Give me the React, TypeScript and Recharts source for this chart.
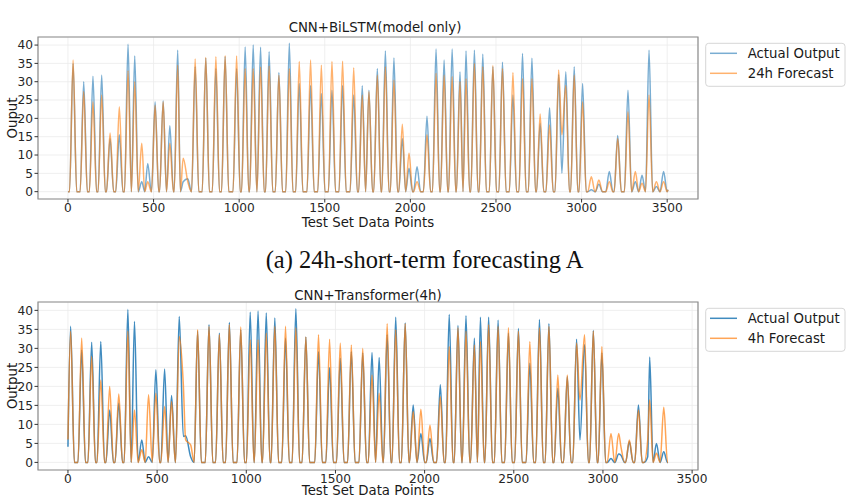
import { CartesianGrid, Line, LineChart, ReferenceArea, XAxis, YAxis } from "recharts";

// chart (a): CNN+BiLSTM, 24h forecast – one entry per visible daily bump
const peakIndexA = [30, 92, 146, 197, 246, 300, 351, 390, 431, 466, 509, 556, 595, 641, 673, 700, 743, 805, 864, 918, 985, 1035, 1082, 1125, 1175, 1232, 1293, 1351, 1417, 1480, 1542, 1604, 1669, 1719, 1758, 1807, 1854, 1904, 1953, 1992, 2039, 2097, 2150, 2197, 2244, 2290, 2325, 2374, 2423, 2482, 2538, 2599, 2655, 2710, 2758, 2813, 2866, 2885, 2908, 2957, 3006, 3057, 3101, 3162, 3211, 3271, 3314, 3353, 3394, 3437, 3479];
const actualA = [35, 30, 31.5, 31.8, 14.5, 15.5, 40.2, 37, 2.7, 7.7, 24.5, 24.8, 18, 38.6, 2.7, 3.5, 34.1, 36.4, 33.6, 36.8, 33.6, 39.5, 40, 39.4, 38.2, 32.5, 40.5, 29.5, 29, 26.8, 27.7, 29, 26.4, 28.9, 27.7, 33.6, 38.4, 36.5, 14.5, 6.4, 6.8, 20.6, 38.9, 35.9, 38.9, 32.7, 38.4, 38.6, 37.5, 34.1, 35.3, 26.4, 37.7, 36.4, 18.6, 22.9, 32, 5, 32.7, 34.1, 29.5, 0.5, 2, 5.5, 15.3, 27.7, 2.7, 4.5, 38.6, 1.4, 5.5];
const forecastA = [35.9, 27.3, 24.5, 26.4, 16, 23.2, 33, 30, 13.2, 2.7, 23.6, 24.5, 13.2, 34.5, 9.1, 2.7, 36.2, 36.6, 36.8, 37.1, 37, 33.6, 33.6, 34, 34.3, 31.8, 33.6, 35.5, 35.9, 34.5, 35.5, 35.6, 33.8, 26.4, 27.3, 31.8, 34.1, 30.5, 18.4, 10.5, 2.7, 15.5, 32.3, 31.8, 31.4, 30, 30.9, 35, 34.1, 34.4, 33.6, 32.5, 30.9, 30.9, 21.2, 18.2, 33.2, 15.5, 29, 31.8, 24.5, 4.1, 3.2, 2.7, 14.5, 21.8, 5.5, 2.3, 26.4, 2.7, 2.7];

// chart (b): CNN+Transformer, 4h forecast
const peakIndexB = [15, 77, 133, 184, 234, 285, 336, 373, 414, 452, 493, 542, 581, 624, 647, 660, 688, 727, 791, 849, 905, 969, 1022, 1066, 1112, 1160, 1220, 1278, 1334, 1405, 1467, 1527, 1589, 1653, 1705, 1745, 1790, 1838, 1891, 1936, 1979, 2030, 2088, 2138, 2187, 2232, 2279, 2313, 2359, 2412, 2470, 2526, 2590, 2644, 2697, 2747, 2800, 2852, 2871, 2897, 2946, 2994, 3045, 3088, 3101, 3148, 3199, 3251, 3262, 3300, 3341];
const actualB = [35.8, 29.6, 31.6, 31.8, 13.8, 15.6, 40.2, 37.1, 5.9, 1.5, 24.4, 24.6, 17.6, 38.4, 6.8, 7, 1.5, 34.5, 36.2, 34, 36.8, 34.9, 39.5, 39.8, 39.3, 38, 32.7, 40.4, 33, 29.2, 25, 27.4, 29.2, 28.8, 28.9, 27.6, 33.6, 38.2, 36.7, 15.1, 7.6, 6.3, 20.4, 38.9, 36, 38.6, 32.7, 38.2, 38.2, 37.4, 34, 35.2, 26.1, 37.6, 36.5, 19.5, 22.6, 32.4, 5.9, 31, 34.7, 28.8, 1, 2.2, 1.9, 5.5, 15.1, 1.5, 27.7, 5, 2.8];
const forecastB = [34.5, 32.7, 27.9, 21.7, 20, 18, 34.5, 13.8, 3.3, 17.8, 18.2, 14.7, 16, 33.1, 20.4, 5.9, 4.6, 34.9, 35.8, 33.6, 36.2, 35.6, 32.3, 32.3, 34, 35.8, 35.8, 35.4, 33, 33.6, 32.4, 31.4, 30.9, 30, 23, 18.2, 36.5, 34.9, 36.5, 13.4, 14, 9.8, 17.3, 30.5, 35.4, 34.5, 30.9, 31.8, 36.2, 35.8, 35.4, 34.5, 31.8, 35.4, 35.8, 23, 23, 31.4, 16.4, 33.6, 34.5, 30.5, 7.6, 7.6, 4.1, 5.9, 13.8, 5.9, 16.4, 2.4, 14.5];

// first and last samples of each test set
const startA = { x: 0, actual: 0, forecast: 0 };
const endA = { x: 3505, actual: 0.5, forecast: 0.5 };
const startB = { x: 0, actual: 4.1, forecast: 6 };
const endB = { x: 3365, actual: 0, forecast: 0 };

const xTicks = [0, 500, 1000, 1500, 2000, 2500, 3000, 3500];
const yTicks = [0, 5, 10, 15, 20, 25, 30, 35, 40];

type Row = { x: number; actual: number; forecast: number };

// night-time zero samples either side of each bump
const FOOT = 21;
const MERGE = 30;

function buildRows(idx: number[], act: number[], fc: number[], start: Row, end: Row): Row[] {
    const rows: Row[] = [start];
    idx.forEach((p, i) => {
        if (i === 0 && p - start.x > FOOT) rows.push({ x: p - FOOT, actual: 0, forecast: 0 });
        rows.push({ x: p, actual: act[i], forecast: fc[i] });
        const next = i === idx.length - 1 ? null : idx[i + 1];
        if (next === null) {
            if (end.x - p > FOOT) rows.push({ x: p + FOOT, actual: 0, forecast: 0 });
        } else if (next - p > 2 * FOOT) {
            rows.push({ x: p + FOOT, actual: 0, forecast: 0 });
            rows.push({ x: next - FOOT, actual: 0, forecast: 0 });
        } else if (next - p > MERGE) {
            rows.push({ x: (p + next) / 2, actual: 0, forecast: 0 });
        }
    });
    rows.push(end);
    return rows;
}

const rowsA = buildRows(peakIndexA, actualA, forecastA, startA, endA);
const rowsB = buildRows(peakIndexB, actualB, forecastB, startB, endB);

const FONT = "DejaVu Sans";
const tick = { fontSize: 12.2, fill: "#262626", fontFamily: FONT };

type PanelProps = {
    rows: Row[];
    top: number;
    height: number;
    margin: { top: number; right: number; bottom: number; left: number };
    xDomain: [number, number];
    xAxisHeight: number;
    blueOpacity: number;
    orangeOpacity: number;
};

const Panel = ({ rows, top, height, margin, xDomain, xAxisHeight, blueOpacity, orangeOpacity }: PanelProps) => (
    <div style={{ position: "absolute", left: 0, top }}>
        <LineChart width={849} height={height} data={rows} margin={margin}>
            <CartesianGrid stroke="#ebebeb" strokeWidth={0.8} />
            <XAxis
                dataKey="x"
                type="number"
                domain={xDomain}
                ticks={xTicks}
                interval={0}
                allowDataOverflow
                height={xAxisHeight}
                axisLine={false}
                tickSize={3.5}
                tickMargin={1}
                tickLine={{ stroke: "#333" }}
                tick={tick}
            />
            <YAxis
                type="number"
                domain={[-2, 42.2]}
                ticks={yTicks}
                interval={0}
                allowDataOverflow
                width={30}
                axisLine={false}
                tickSize={3.5}
                tickMargin={1.5}
                tickLine={{ stroke: "#333" }}
                tick={tick}
            />
            <Line type="monotone" dataKey="actual" stroke="#1f77b4" strokeOpacity={blueOpacity} strokeWidth={1.5} dot={false} activeDot={false} isAnimationActive={false} />
            <Line type="monotone" dataKey="forecast" stroke="#ff7f0e" strokeOpacity={orangeOpacity} strokeWidth={1.5} dot={false} activeDot={false} isAnimationActive={false} />
            <ReferenceArea x1={xDomain[0]} x2={xDomain[1]} y1={-2} y2={42.2} fill="none" stroke="#8c8c8c" strokeWidth={1.2} ifOverflow="visible" />
        </LineChart>
    </div>
);

const LegendBox = ({ y, labels, blueOpacity, orangeOpacity }: { y: number; labels: string[]; blueOpacity: number; orangeOpacity: number }) => (
    <g>
        <rect x={705.7} y={y} width={139.3} height={43} rx={3} fill="#fff" stroke="#d6d6d6" strokeWidth={1} />
        <line x1={710} x2={737} y1={y + 10} y2={y + 10} stroke="#1f77b4" strokeOpacity={blueOpacity} strokeWidth={1.5} />
        <line x1={710} x2={737} y1={y + 30} y2={y + 30} stroke="#ff7f0e" strokeOpacity={orangeOpacity} strokeWidth={1.5} />
        <text x={747.7} y={y + 14.9} fontSize={13.3} fill="#1a1a1a">{labels[0]}</text>
        <text x={747.7} y={y + 34.9} fontSize={13.3} fill="#1a1a1a">{labels[1]}</text>
    </g>
);

export default function App() {
    return (
        <div style={{ position: "absolute", left: 0, top: 0, width: 849, height: 498, background: "#fff", fontFamily: FONT, overflow: "hidden" }}>
            <Panel
                rows={rowsA}
                top={0}
                height={250}
                margin={{ top: 37, right: 151, bottom: 21, left: 8 }}
                xDomain={[-175, 3680]}
                xAxisHeight={30}
                blueOpacity={0.6}
                orangeOpacity={0.6}
            />
            <Panel
                rows={rowsB}
                top={250}
                height={248}
                margin={{ top: 52, right: 151, bottom: 0, left: 8 }}
                xDomain={[-168, 3533]}
                xAxisHeight={28}
                blueOpacity={0.85}
                orangeOpacity={0.7}
            />
            <svg width={849} height={498} style={{ position: "absolute", left: 0, top: 0, pointerEvents: "none" }} fontFamily={FONT}>
                <text x={375} y={31.5} fontSize={13.3} textAnchor="middle" fill="#1a1a1a">CNN+BiLSTM(model only)</text>
                <text x={368} y={226.8} fontSize={13.3} textAnchor="middle" fill="#1a1a1a">Test Set Data Points</text>
                <text transform="translate(16.8 118) rotate(-90)" fontSize={13.3} textAnchor="middle" fill="#1a1a1a">Ouput</text>
                <LegendBox y={43.3} labels={["Actual Output", "24h Forecast"]} blueOpacity={0.6} orangeOpacity={0.6} />

                <text x={424.5} y={268} fontSize={24.5} textAnchor="middle" fontFamily="Liberation Serif" fill="#111">(a) 24h-short-term forecasting A</text>

                <text x={368} y={299.6} fontSize={13.3} textAnchor="middle" fill="#1a1a1a">CNN+Transformer(4h)</text>
                <text x={368} y={495.3} fontSize={13.3} textAnchor="middle" fill="#1a1a1a">Test Set Data Points</text>
                <text transform="translate(16.8 386) rotate(-90)" fontSize={13.3} textAnchor="middle" fill="#1a1a1a">Output</text>
                <LegendBox y={308.3} labels={["Actual Output", "4h Forecast"]} blueOpacity={0.85} orangeOpacity={0.7} />
            </svg>
        </div>
    );
}
